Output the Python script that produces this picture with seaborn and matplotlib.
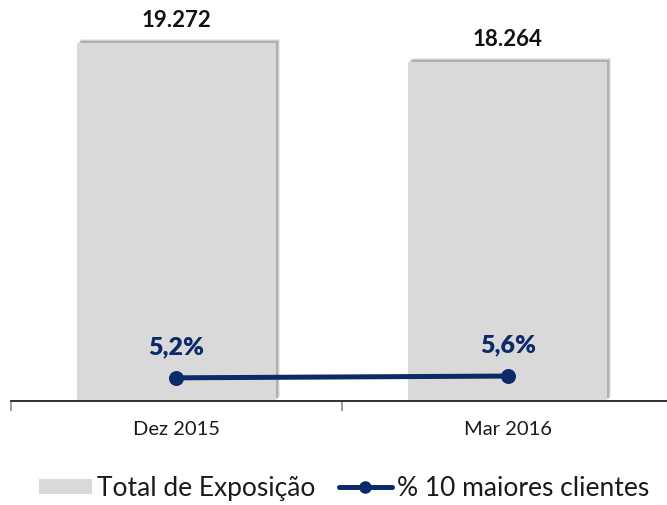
import matplotlib
matplotlib.use("Agg")
import matplotlib.pyplot as plt
import matplotlib.patheffects as pe
from matplotlib.lines import Line2D
from matplotlib.patches import Patch
import seaborn as sns
import pandas as pd

categories = ["Dez 2015", "Mar 2016"]
exposure = [19272, 18264]
top10_pct = [5.2, 5.6]
bar_name = "Total de Exposição"
line_name = "% 10 maiores clientes"

BAR_COLOR = "#D9D9D9"
NAVY = "#0B2A6A"

sns.set_theme(style="white")
plt.rcParams["font.family"] = ["Lato", "DejaVu Sans"]

df = pd.DataFrame({"cat": categories, "exp": exposure, "pct": top10_pct})

fig = plt.figure(figsize=(6.67, 5.06), dpi=100)
W, H = 667, 506
ax = fig.add_axes([10.5 / W, (H - 402) / H, 663 / W, 392 / H])

sns.barplot(data=df, x="cat", y="exp", color=BAR_COLOR, width=0.6, ax=ax,
            saturation=1)
for p in ax.patches:
    p.set_edgecolor("none")
    p.set_path_effects([
        pe.SimplePatchShadow(offset=(3, 3), shadow_rgbFace="#000000", alpha=0.08),
        pe.SimplePatchShadow(offset=(2.2, 2.2), shadow_rgbFace="#000000", alpha=0.12),
        pe.SimplePatchShadow(offset=(1.4, 1.4), shadow_rgbFace="#000000", alpha=0.15),
        pe.Normal()])
ax.set_ylim(0, 21100)
ax.set_xlim(-0.5, 1.5)

for i, v in enumerate(exposure):
    ax.annotate(f"{v:,.0f}".replace(",", "."), (i, v), xytext=(0, 9),
                textcoords="offset points", ha="center", va="bottom",
                fontsize=16, fontweight="bold", color="#111111")

ax2 = ax.twinx()
sns.lineplot(data=df, x="cat", y="pct", ax=ax2, color=NAVY, linewidth=3.6,
             marker="o", markersize=10, markeredgecolor=NAVY)
ax2.set_ylim(0, 88)
for i, v in enumerate(top10_pct):
    ax2.annotate(f"{v:.1f}".replace(".", ",") + "%", (i, v), xytext=(0, 15),
                 textcoords="offset points", ha="center", va="bottom",
                 fontsize=18, fontweight="heavy", color=NAVY)

for a in (ax, ax2):
    for s in ("left", "right", "top"):
        a.spines[s].set_visible(False)
    a.set_ylabel("")
    a.set_xlabel("")
    a.set_yticks([])
ax.spines["bottom"].set_color("#8C8C8C")
ax.spines["bottom"].set_linewidth(1.2)

ax.set_xticks([-0.5, 0.5, 1.5])
ax.set_xticklabels([])
ax.tick_params(axis="x", which="major", length=7, width=1.2, color="#8C8C8C",
               direction="out", bottom=True)
ax.set_xticks([0, 1], minor=True)
ax.set_xticklabels(categories, minor=True)
ax.tick_params(axis="x", which="minor", length=0, pad=14, labelsize=14.5,
               labelcolor="#1a1a1a")
ax2.tick_params(axis="x", which="both", length=0)

handles = [Patch(facecolor=BAR_COLOR, edgecolor="none", label=bar_name),
           Line2D([0], [0], color=NAVY, linewidth=3.6, marker="o",
                  markersize=8, label=line_name)]
fig.legend(handles=handles, loc="center", bbox_to_anchor=(344 / W, (H - 489) / H),
           ncol=2, frameon=False, fontsize=19, handlelength=2.0,
           handleheight=0.5, handletextpad=0.2, columnspacing=0.9,
           labelcolor="#1a1a1a")

fig.savefig("out.png", dpi=100)
